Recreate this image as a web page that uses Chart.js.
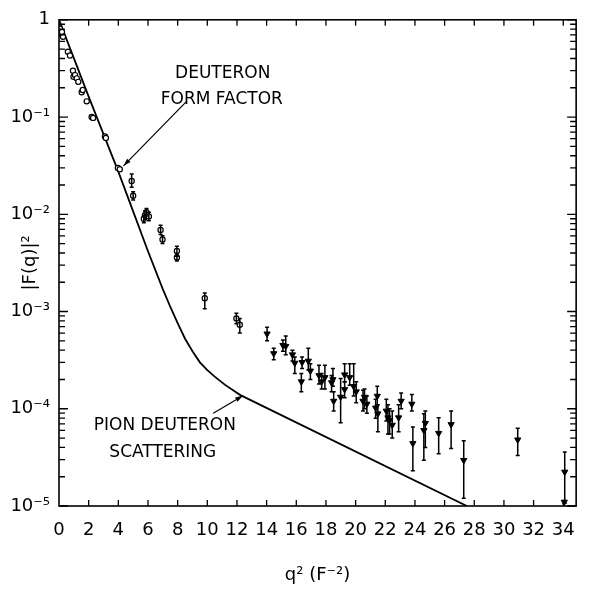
<!DOCTYPE html>
<html><head><meta charset="utf-8">
<script src="https://cdn.jsdelivr.net/npm/chart.js@4/dist/chart.umd.min.js"></script>
<style>html,body{margin:0;padding:0;background:#fff}#wrap{width:589px;height:590px}</style>
</head><body><div id="wrap"><canvas id="c" width="589" height="590"></canvas></div>
<script>
// ---- data ----
const xTicks = [0,2,4,6,8,10,12,14,16,18,20,22,24,26,28,30,32,34];
const yTicks = [1e-5,1e-4,1e-3,1e-2,1e-1,1];
const yTickLabels = ['10\u207B\u2075','10\u207B\u2074','10\u207B\u00B3','10\u207B\u00B2','10\u207B\u00B9','1'];

// theoretical curve
const curveX = [0, 1, 2, 3, 4, 5, 6, 7, 7.5, 8, 8.5, 9, 9.5, 10, 10.5, 11.2, 12.2, 27.5];
const curveY = [1.0, 0.403, 0.162, 0.0668, 0.0275, 0.0107, 0.00417, 0.0017, 0.00112, 7.6e-4, 5.25e-4, 3.9e-4, 3.0e-4, 2.5e-4, 2.14e-4, 1.76e-4, 1.39e-4, 1.0e-5];

// open circles (form factor data)
const circX  = [0.07,0.13,0.2,0.27,0.6,0.74,0.94,0.98,1.08,1.2,1.3,1.53,1.6,1.87,2.2,2.3,3.1,3.16,3.97,4.1,4.9,5.0,5.72,5.8,5.9,6.06,6.85,6.98,7.95,7.95,9.83,11.96,12.19];
const circY  = [0.81,0.72,0.75,0.67,0.47,0.43,0.30,0.26,0.27,0.25,0.23,0.18,0.19,0.145,0.10,0.098,0.063,0.061,0.030,0.029,0.022,0.0155,0.0090,0.0098,0.0105,0.0095,0.0069,0.0055,0.0042,0.0036,0.00137,8.5e-4,7.3e-4];
const circLo = [null,null,null,null,null,null,null,null,null,null,null,null,null,null,null,null,null,null,null,null,0.019,0.014,0.0082,0.0089,0.0096,0.0086,0.0062,0.0050,0.0037,0.0033,0.00107,7.5e-4,6.0e-4];
const circHi = [null,null,null,null,null,null,null,null,null,null,null,null,null,null,null,null,null,null,null,null,0.026,0.0170,0.0098,0.0108,0.0115,0.0105,0.0077,0.0060,0.0047,0.0039,0.00155,9.6e-4,8.5e-4];

// filled inverted triangles (pion-deuteron data)
const triX  = [14.03,14.48,15.10,15.29,15.74,15.90,16.39,16.34,16.81,16.95,17.53,17.71,17.93,18.38,18.47,18.52,18.99,19.26,19.26,19.60,19.87,20.04,20.50,20.60,20.76,21.46,21.35,21.50,22.07,22.18,22.29,22.47,22.90,23.07,23.79,23.86,24.60,24.70,25.60,26.44,27.29,30.93,34.10,34.07];
const triY  = [5.9e-4,3.7e-4,4.5e-4,4.4e-4,3.6e-4,2.95e-4,3.0e-4,1.9e-4,3.1e-4,2.45e-4,2.2e-4,1.9e-4,2.1e-4,1.86e-4,2.0e-4,1.2e-4,1.32e-4,2.24e-4,1.58e-4,2.1e-4,1.7e-4,1.5e-4,1.2e-4,1.32e-4,1.12e-4,1.35e-4,1.02e-4,8.9e-5,9.5e-5,8.1e-5,7.6e-5,6.8e-5,8.1e-5,1.2e-4,1.12e-4,4.4e-5,6.0e-5,7.1e-5,5.6e-5,6.9e-5,2.95e-5,4.8e-5,2.24e-5,1.1e-5];
const triLo = [5.0e-4,3.2e-4,3.9e-4,3.6e-4,3.1e-4,2.3e-4,2.6e-4,1.5e-4,2.5e-4,2.0e-4,1.8e-4,1.6e-4,1.6e-4,1.5e-4,1.7e-4,9.5e-5,7.2e-5,1.9e-4,1.3e-4,1.75e-4,1.35e-4,1.15e-4,9.5e-5,1.0e-4,9.0e-5,1.1e-4,8.0e-5,5.8e-5,7.5e-5,5.5e-5,5.5e-5,5.0e-5,5.8e-5,1.0e-4,9.5e-5,2.3e-5,2.95e-5,4.0e-5,3.45e-5,3.9e-5,1.2e-5,3.3e-5,1.07e-5,null];
const triHi = [6.9e-4,4.2e-4,5.1e-4,5.6e-4,4.0e-4,3.4e-4,3.4e-4,2.3e-4,4.2e-4,2.9e-4,2.8e-4,2.3e-4,2.8e-4,2.2e-4,2.6e-4,1.5e-4,2.05e-4,2.9e-4,1.9e-4,2.9e-4,2.9e-4,1.9e-4,1.55e-4,1.6e-4,1.35e-4,1.7e-4,1.25e-4,1.1e-4,1.25e-4,1.1e-4,1.0e-4,9.5e-5,1.1e-4,1.45e-4,1.4e-4,6.5e-5,8.9e-5,9.5e-5,8.1e-5,9.5e-5,4.7e-5,6.3e-5,3.6e-5,null];

// annotations (anchored in data coordinates)
const labelFormFactor = ['DEUTERON', 'FORM FACTOR'];
const labelPion = ['PION DEUTERON', 'SCATTERING'];

// ---- build ----
const pts = (xs, ys) => xs.map((x, i) => ({x: x, y: ys[i]}));
const FONT = '"DejaVu Sans", "Liberation Sans", sans-serif';

const decoPlugin = {
  id: 'deco',
  afterDatasetsDraw(chart) {
    const ctx = chart.ctx, xs = chart.scales.x, ys = chart.scales.y, a = chart.chartArea;
    ctx.save();
    ctx.strokeStyle = '#000'; ctx.fillStyle = '#000';
    // error bars
    ctx.lineWidth = 1.5;
    const bars = (X, Lo, Hi) => X.forEach((x, i) => {
      if (Lo[i] == null) return;
      const px = xs.getPixelForValue(x), y1 = ys.getPixelForValue(Lo[i]), y2 = ys.getPixelForValue(Hi[i]);
      ctx.beginPath(); ctx.moveTo(px, y1); ctx.lineTo(px, y2);
      ctx.moveTo(px - 2, y1); ctx.lineTo(px + 2, y1);
      ctx.moveTo(px - 2, y2); ctx.lineTo(px + 2, y2);
      ctx.stroke();
    });
    bars(circX, circLo, circHi);
    bars(triX, triLo, triHi);
    // frame
    ctx.lineWidth = 1.6;
    ctx.strokeRect(a.left, a.top, a.right - a.left, a.bottom - a.top);
    // inward ticks
    ctx.lineWidth = 1.3;
    ctx.beginPath();
    xTicks.forEach(v => {
      if (v === 0) return;
      const px = xs.getPixelForValue(v);
      ctx.moveTo(px, a.bottom); ctx.lineTo(px, a.bottom - 6);
      ctx.moveTo(px, a.top); ctx.lineTo(px, a.top + 6);
    });
    for (let e = -5; e <= 0; e++) {
      for (let m = 1; m <= 9; m++) {
        const v = m * Math.pow(10, e);
        if (v > 1 || v < 1e-5) continue;
        const py = ys.getPixelForValue(v);
        const len = (m === 1) ? 9 : 6;
        ctx.moveTo(a.left, py); ctx.lineTo(a.left + len, py);
        ctx.moveTo(a.right, py); ctx.lineTo(a.right - len, py);
      }
    }
    ctx.stroke();
    // annotation arrows
    const arrow = (x1, y1, x2, y2) => {
      const p1 = [xs.getPixelForValue(x1), ys.getPixelForValue(y1)];
      const p2 = [xs.getPixelForValue(x2), ys.getPixelForValue(y2)];
      ctx.lineWidth = 1.2;
      ctx.beginPath(); ctx.moveTo(p1[0], p1[1]); ctx.lineTo(p2[0], p2[1]); ctx.stroke();
      const ang = Math.atan2(p2[1] - p1[1], p2[0] - p1[0]);
      ctx.beginPath();
      ctx.moveTo(p2[0], p2[1]);
      ctx.lineTo(p2[0] - 8 * Math.cos(ang - 0.3), p2[1] - 8 * Math.sin(ang - 0.3));
      ctx.lineTo(p2[0] - 8 * Math.cos(ang + 0.3), p2[1] - 8 * Math.sin(ang + 0.3));
      ctx.closePath(); ctx.fill();
    };
    arrow(8.62, 0.146, 4.35, 0.0315);
    arrow(10.4, 9.0e-5, 12.4, 1.36e-4);
    // annotation texts
    ctx.font = '17px ' + FONT;
    ctx.textAlign = 'center'; ctx.textBaseline = 'middle';
    ctx.fillText(labelFormFactor[0], xs.getPixelForValue(11.04), ys.getPixelForValue(0.28));
    ctx.fillText(labelFormFactor[1], xs.getPixelForValue(10.98), ys.getPixelForValue(0.153));
    ctx.fillText(labelPion[0], xs.getPixelForValue(7.14), ys.getPixelForValue(6.7e-5));
    ctx.fillText(labelPion[1], xs.getPixelForValue(7.0), ys.getPixelForValue(3.55e-5));
    ctx.restore();
  }
};

new Chart(document.getElementById('c'), {
  type: 'scatter',
  data: {
    datasets: [
      { label: 'theory', type: 'line', data: pts(curveX, curveY), borderColor: '#000', borderWidth: 1.8,
        pointRadius: 0, fill: false, tension: 0, order: 3 },
      { label: 'form factor', data: pts(circX, circY), pointStyle: 'circle', pointRadius: 2.6,
        borderColor: '#000', backgroundColor: '#fff', borderWidth: 1.2, order: 1 },
      { label: 'pion deuteron', data: pts(triX, triY), pointStyle: 'triangle', rotation: 180, pointRadius: 3.6,
        borderColor: '#000', backgroundColor: '#000', borderWidth: 1, order: 2 }
    ]
  },
  options: {
    responsive: false, animation: false, devicePixelRatio: 1,
    layout: { padding: { left: 0, right: 12, top: 16, bottom: 0 } },
    plugins: { legend: { display: false }, tooltip: { enabled: false } },
    scales: {
      x: {
        type: 'linear', min: 0, max: 34.87,
        afterBuildTicks: s => { s.ticks = xTicks.map(v => ({ value: v })); },
        afterFit: s => { s.height = 84; },
        grid: { display: false, drawTicks: false }, border: { display: false },
        ticks: { autoSkip: false, maxRotation: 0, padding: 14, color: '#000', font: { family: FONT, size: 18 } },
        title: { display: true, text: 'q\u00B2 (F\u207B\u00B2)', color: '#000', font: { family: FONT, size: 18 }, padding: { top: 0, bottom: 4 } }
      },
      y: {
        type: 'logarithmic', min: 1e-5, max: 1,
        afterBuildTicks: s => { s.ticks = yTicks.map(v => ({ value: v })); },
        afterFit: s => { s.width = 59; },
        grid: { display: false, drawTicks: false }, border: { display: false },
        ticks: { autoSkip: false, padding: 9, color: '#000', font: { family: FONT, size: 18 },
          callback: (v, i) => yTickLabels[i] },
        title: { display: true, text: '|F(q)|\u00B2', color: '#000', font: { family: FONT, size: 18 }, padding: { top: 20, bottom: 0 } }
      }
    }
  },
  plugins: [decoPlugin]
});
</script></body></html>
